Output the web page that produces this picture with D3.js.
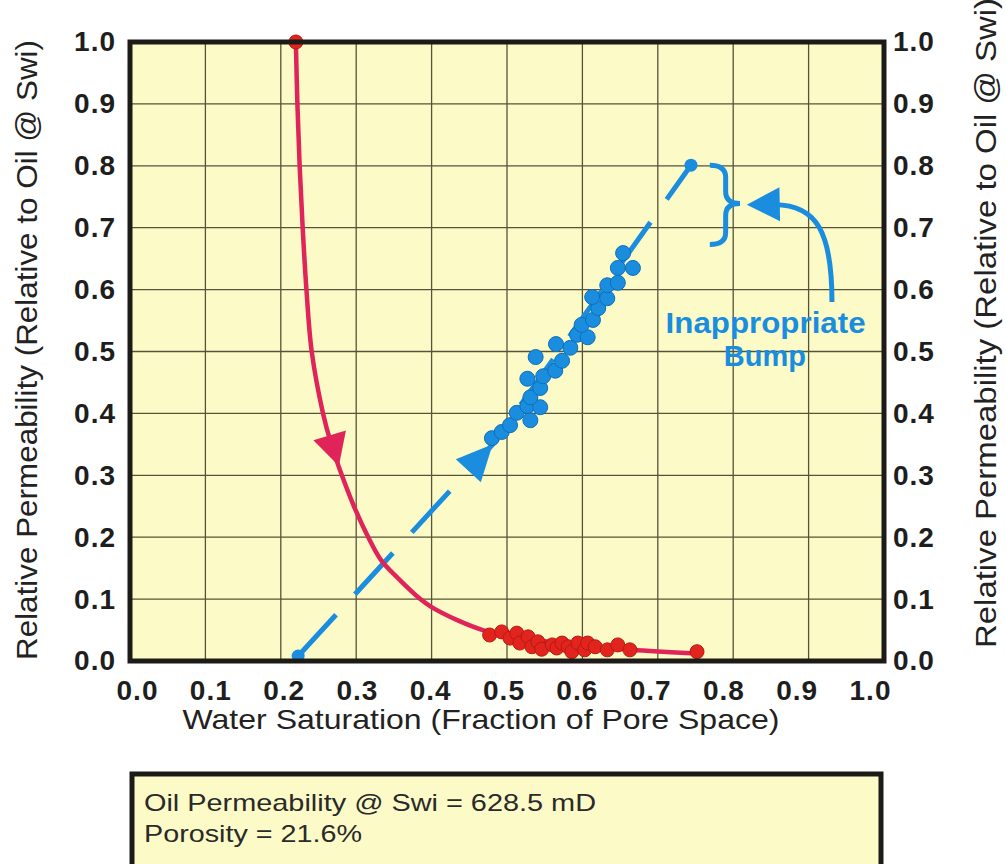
<!DOCTYPE html>
<html>
  <head>
    <meta charset="utf-8">
    <title>Relative Permeability</title>
    <script src="https://cdn.jsdelivr.net/npm/d3@7"></script>
    <style media="screen">
      body {
        margin: 0;
        background: #fff;
      }
      svg {
        display: block;
        font-family: "Liberation Sans", Arial, sans-serif;
      }
      .grid line {
        stroke: #55533a;
        stroke-width: 1.3;
      }
      .tick-lab text {
        font-size: 28px;
        font-weight: bold;
        fill: #1e1e1e;
        letter-spacing: 1px;
      }
    </style>
  </head>
  <body>
    <script type="text/javascript">

    // tick values, both axes
    const ticks = [0, 0.1, 0.2, 0.3, 0.4, 0.5, 0.6, 0.7, 0.8, 0.9, 1.0];

    // oil curve (drawn line)
    const kroCurveSw = [0.220, 0.222, 0.225, 0.229, 0.234, 0.241, 0.256, 0.267, 0.281, 0.297, 0.316, 0.333, 0.356, 0.385, 0.400, 0.434, 0.468, 0.500, 0.550, 0.600, 0.665, 0.752];
    const kroCurveK  = [1.000, 0.900, 0.800, 0.700, 0.600, 0.500, 0.400, 0.350, 0.300, 0.250, 0.200, 0.163, 0.133, 0.100, 0.087, 0.066, 0.050, 0.042, 0.032, 0.025, 0.018, 0.012];

    // oil measured points
    const kroSw = [0.220, 0.477, 0.493, 0.504, 0.513, 0.517, 0.528, 0.533, 0.541, 0.546, 0.560, 0.566, 0.573, 0.581, 0.586, 0.594, 0.603, 0.607, 0.617, 0.633, 0.647, 0.663, 0.752];
    const kroK  = [1.000, 0.042, 0.047, 0.037, 0.045, 0.029, 0.039, 0.023, 0.031, 0.019, 0.026, 0.021, 0.029, 0.023, 0.015, 0.029, 0.018, 0.029, 0.023, 0.018, 0.026, 0.018, 0.015];

    // water measured points
    const krwSw = [0.480, 0.493, 0.504, 0.513, 0.531, 0.527, 0.544, 0.531, 0.544, 0.527, 0.548, 0.564, 0.573, 0.538, 0.584, 0.565, 0.593, 0.607, 0.599, 0.614, 0.621, 0.613, 0.633, 0.633, 0.647, 0.647, 0.667, 0.654];
    const krwK  = [0.360, 0.370, 0.381, 0.401, 0.389, 0.412, 0.410, 0.426, 0.441, 0.456, 0.460, 0.469, 0.485, 0.491, 0.506, 0.512, 0.527, 0.523, 0.543, 0.551, 0.570, 0.588, 0.586, 0.607, 0.611, 0.635, 0.635, 0.659];

    // water trend line (start, arrow, end)
    const krwLineSw = [0.223, 0.481, 0.744];
    const krwLineK  = [0.008, 0.350, 0.801];

    const width = 1006, height = 864;
    const plot = {left: 130, right: 884, top: 42, bottom: 661};
    const yellow = "#fcfbc8", red = "#e2241e", crimson = "#e0245a", blue = "#1a8ddf";

    const svg = d3.select('body').append('svg')
      .attr('width', width)
      .attr('height', height);

    const x = d3.scaleLinear().domain([0, 1]).range([plot.left, plot.right]);
    const y = d3.scaleLinear().domain([0, 1]).range([plot.bottom, plot.top]);
    // x labels sit slightly inside the grid in the original
    const xLab = d3.scaleLinear().domain([0, 1]).range([137, 870]);

    svg.append('rect')
      .attr('x', plot.left).attr('y', plot.top)
      .attr('width', plot.right - plot.left)
      .attr('height', plot.bottom - plot.top)
      .attr('fill', yellow);

    // gridlines
    svg.append('g').attr('class', 'grid')
      .selectAll('line').data(ticks.slice(1, -1)).enter()
      .append('line')
      .attr('x1', d => x(d)).attr('x2', d => x(d))
      .attr('y1', plot.top).attr('y2', plot.bottom);
    svg.append('g').attr('class', 'grid')
      .selectAll('line').data(ticks.slice(1, -1)).enter()
      .append('line')
      .attr('y1', d => y(d)).attr('y2', d => y(d))
      .attr('x1', plot.left).attr('x2', plot.right);

    const fmt = d3.format('.1f');

    svg.append('g').attr('class', 'tick-lab')
      .attr('transform', 'translate(0,' + plot.bottom + ')')
      .call(d3.axisBottom(xLab).tickValues(ticks).tickFormat(fmt).tickSize(0).tickPadding(19))
      .call(g => g.select('.domain').remove());

    svg.append('g').attr('class', 'tick-lab')
      .attr('transform', 'translate(' + plot.left + ',0)')
      .call(d3.axisLeft(y).tickValues(ticks).tickFormat(fmt).tickSize(0).tickPadding(14))
      .call(g => g.select('.domain').remove());

    svg.append('g').attr('class', 'tick-lab')
      .attr('transform', 'translate(' + plot.right + ',0)')
      .call(d3.axisRight(y).tickValues(ticks).tickFormat(fmt).tickSize(0).tickPadding(9))
      .call(g => g.select('.domain').remove());

    // axis titles
    svg.append('text')
      .attr('x', 481).attr('y', 729)
      .attr('text-anchor', 'middle')
      .attr('font-size', 28).attr('fill', '#222')
      .attr('textLength', 597).attr('lengthAdjust', 'spacingAndGlyphs')
      .text('Water Saturation (Fraction of Pore Space)');

    svg.append('text')
      .attr('transform', 'translate(37,350) rotate(-90)')
      .attr('text-anchor', 'middle')
      .attr('font-size', 29).attr('fill', '#222')
      .attr('textLength', 620).attr('lengthAdjust', 'spacingAndGlyphs')
      .text('Relative Permeability (Relative to Oil @ Swi)');

    svg.append('text')
      .attr('transform', 'translate(996,323) rotate(-90)')
      .attr('text-anchor', 'middle')
      .attr('font-size', 29).attr('fill', '#222')
      .attr('textLength', 650).attr('lengthAdjust', 'spacingAndGlyphs')
      .text('Relative Permeability (Relative to Oil @ Swi)');

    // water dashed trend
    const pts = (xs, ys) => xs.map((v, i) => [v, ys[i]]);
    const line = d3.line().x(d => x(d[0])).y(d => y(d[1]));

    svg.append('path')
      .datum(pts(krwLineSw, krwLineK))
      .attr('d', line)
      .attr('fill', 'none')
      .attr('stroke', blue)
      .attr('stroke-width', 5)
      .attr('stroke-dasharray', '56,28');

    // oil curve
    const curve = d3.line().x(d => x(d[0])).y(d => y(d[1]))
      .curve(d3.curveCatmullRom.alpha(0.5));
    svg.append('path')
      .datum(pts(kroCurveSw, kroCurveK))
      .attr('d', curve)
      .attr('fill', 'none')
      .attr('stroke', crimson)
      .attr('stroke-width', 4.5);

    function arrowHead(tip, from, len, half, color) {
      const tx = x(tip[0]), ty = y(tip[1]);
      const fx = x(from[0]), fy = y(from[1]);
      const a = Math.atan2(ty - fy, tx - fx);
      const bx = tx - len * Math.cos(a), by = ty - len * Math.sin(a);
      const nx = -Math.sin(a) * half, ny = Math.cos(a) * half;
      svg.append('path')
        .attr('d', 'M' + tx + ',' + ty + 'L' + (bx + nx) + ',' + (by + ny) +
          'L' + (bx - nx) + ',' + (by - ny) + 'Z')
        .attr('fill', color);
    }

    arrowHead([0.277, 0.315], [kroCurveSw[6], kroCurveK[6]], 32, 17, crimson);
    arrowHead([krwLineSw[1], krwLineK[1]], [krwLineSw[0], krwLineK[0]], 36, 17, blue);

    // measured points
    svg.append('g')
      .selectAll('circle').data(pts(kroSw, kroK)).enter()
      .append('circle')
      .attr('cx', d => x(d[0])).attr('cy', d => y(d[1]))
      .attr('r', 7)
      .attr('fill', red).attr('stroke', '#b8180f').attr('stroke-width', 1);

    svg.append('g')
      .selectAll('circle').data(pts(krwSw, krwK)).enter()
      .append('circle')
      .attr('cx', d => x(d[0])).attr('cy', d => y(d[1]))
      .attr('r', 7.5)
      .attr('fill', blue).attr('stroke', '#0e6fba').attr('stroke-width', 1);

    svg.append('g')
      .selectAll('circle').data([0, 2]).enter()
      .append('circle')
      .attr('cx', i => x(krwLineSw[i])).attr('cy', i => y(krwLineK[i]))
      .attr('r', 6.5)
      .attr('fill', blue);

    // "Inappropriate Bump" brace + arrow
    const bx0 = x(0.769), bx1 = x(0.790), bTip = x(0.809);
    const bTop = y(0.801), bMid = y(0.739), bBot = y(0.673), r = 12;
    svg.append('path')
      .attr('d', 'M' + bx0 + ',' + bTop +
        'Q' + bx1 + ',' + bTop + ' ' + bx1 + ',' + (bTop + r) +
        'L' + bx1 + ',' + (bMid - r) +
        'Q' + bx1 + ',' + bMid + ' ' + bTip + ',' + bMid +
        'Q' + bx1 + ',' + bMid + ' ' + bx1 + ',' + (bMid + r) +
        'L' + bx1 + ',' + (bBot - r) +
        'Q' + bx1 + ',' + bBot + ' ' + bx0 + ',' + bBot)
      .attr('fill', 'none').attr('stroke', blue).attr('stroke-width', 5);

    svg.append('path')
      .attr('d', 'M' + x(0.931) + ',' + y(0.580) +
        'C' + x(0.931) + ',' + y(0.690) + ' ' + x(0.912) + ',' + y(0.737) +
        ' ' + x(0.855) + ',' + y(0.737))
      .attr('fill', 'none').attr('stroke', blue).attr('stroke-width', 5);
    arrowHead([0.818, 0.737], [0.86, 0.738], 33, 17, blue);

    svg.append('text')
      .attr('x', x(0.843)).attr('y', y(0.530))
      .attr('text-anchor', 'middle')
      .attr('font-size', 29).attr('font-weight', 'bold').attr('fill', blue)
      .attr('textLength', 200).attr('lengthAdjust', 'spacingAndGlyphs')
      .text('Inappropriate');
    svg.append('text')
      .attr('x', x(0.842)).attr('y', y(0.476))
      .attr('text-anchor', 'middle')
      .attr('font-size', 29).attr('font-weight', 'bold').attr('fill', blue)
      .text('Bump');

    // plot frame
    svg.append('rect')
      .attr('x', plot.left).attr('y', plot.top)
      .attr('width', plot.right - plot.left)
      .attr('height', plot.bottom - plot.top)
      .attr('fill', 'none')
      .attr('stroke', '#1d1b18').attr('stroke-width', 5);

    // info box
    svg.append('rect')
      .attr('x', 132).attr('y', 774)
      .attr('width', 749).attr('height', 110)
      .attr('fill', yellow)
      .attr('stroke', '#1d1b18').attr('stroke-width', 5);

    svg.append('text')
      .attr('x', 144).attr('y', 811)
      .attr('font-size', 24).attr('fill', '#2a2a2a')
      .attr('textLength', 452).attr('lengthAdjust', 'spacingAndGlyphs')
      .text('Oil Permeability @ Swi = 628.5 mD');
    svg.append('text')
      .attr('x', 144).attr('y', 842)
      .attr('font-size', 24).attr('fill', '#2a2a2a')
      .attr('textLength', 218).attr('lengthAdjust', 'spacingAndGlyphs')
      .text('Porosity = 21.6%');

    </script>
  </body>
</html>
